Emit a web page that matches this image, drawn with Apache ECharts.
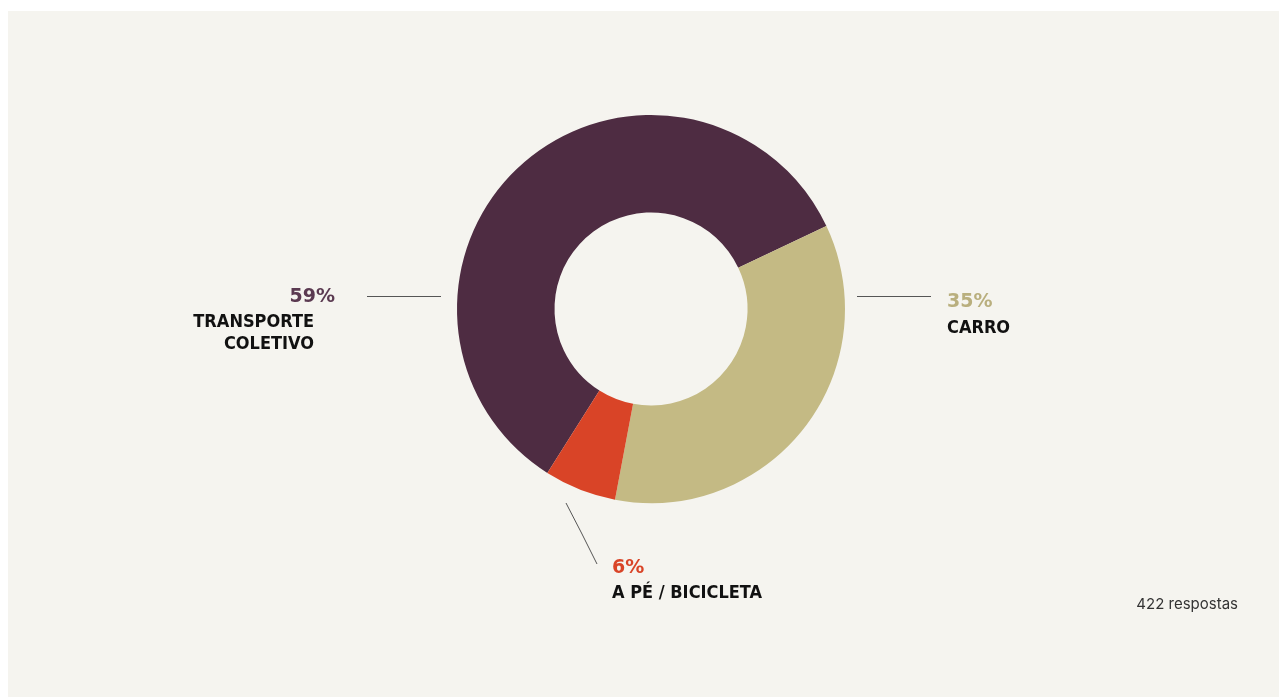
<!DOCTYPE html>
<html>
<head>
<meta charset="utf-8">
<script src="https://cdn.jsdelivr.net/npm/echarts@6/dist/echarts.min.js"></script>
<style>
html,body{margin:0;padding:0;background:#ffffff;}
#chart{width:1282px;height:697px;}
</style>
</head>
<body>
<div id="chart"></div>
<script>
const categories = ['TRANSPORTE\nCOLETIVO', 'CARRO', 'A PÉ / BICICLETA'];
const values = [59, 35, 6];
const sliceColors = ['#4e2c42', '#c4ba84', '#d94427'];
const pctColors = ['#5b3a51', '#b9af7e', '#d94427'];
const footnote = '422 respostas';

const NAME_FONT = "'DejaVu Sans Condensed', 'Liberation Sans Narrow', sans-serif";
const PCT_FONT = "'DejaVu Sans', sans-serif";

const labelPlacement = [
  {x: 335, y: 282.5, align: 'right', line: [[441, 296.5], [404, 296.5], [367, 296.5]]},
  {x: 947, y: 288, align: 'left', line: [[857, 296.5], [894, 296.5], [931, 296.5]]},
  {x: 612, y: 553.5, align: 'left', line: [[566, 503], [581.5, 533], [597, 564]]}
];

const chart = echarts.init(document.getElementById('chart'), null, {renderer: 'canvas'});

const data = categories.map((name, i) => ({
  name: name,
  value: values[i],
  itemStyle: {color: sliceColors[i]},
  label: {color: pctColors[i]}
}));

chart.setOption({
  animation: false,
  backgroundColor: 'transparent',
  graphic: [{
    type: 'rect', left: 8, top: 11, z: -10,
    shape: {width: 1271, height: 700},
    style: {fill: '#f5f4ef'}, silent: true
  }],
  title: {
    text: footnote,
    right: 44, top: 597, padding: 0,
    textStyle: {fontFamily: 'Inter, sans-serif', fontSize: 15, fontWeight: 'normal', color: '#333333'}
  },
  series: [{
    type: 'pie',
    center: [651, 309],
    radius: [96.5, 194],
    startAngle: 237.7,
    clockwise: true,
    avoidLabelOverlap: false,
    silent: true,
    emphasis: {disabled: true},
    data: data,
    label: {
      show: true,
      position: 'outside',
      formatter: function (p) {
        const st = p.dataIndex === 0 ? 'nr' : 'n';
        const lines = p.name.split('\n').map(s => '{' + st + '|' + s + '}').join('\n');
        return '{p|' + p.value + '%}\n' + lines;
      },
      rich: {
        p: {fontFamily: PCT_FONT, fontWeight: 'bold', fontSize: 19, lineHeight: 29},
        n: {fontFamily: NAME_FONT, fontWeight: 'bold', fontSize: 18, lineHeight: 22, color: '#111111'},
        nr: {fontFamily: NAME_FONT, fontWeight: 'bold', fontSize: 18, lineHeight: 22, color: '#111111', padding: [0, 21, 0, 0]}
      }
    },
    labelLine: {show: true, lineStyle: {color: '#555555', width: 1}},
    labelLayout: function (params) {
      const pl = labelPlacement[params.dataIndex];
      return {
        x: pl.x, y: pl.y, align: pl.align, verticalAlign: 'top',
        labelLinePoints: pl.line
      };
    }
  }]
});
</script>
</body>
</html>
